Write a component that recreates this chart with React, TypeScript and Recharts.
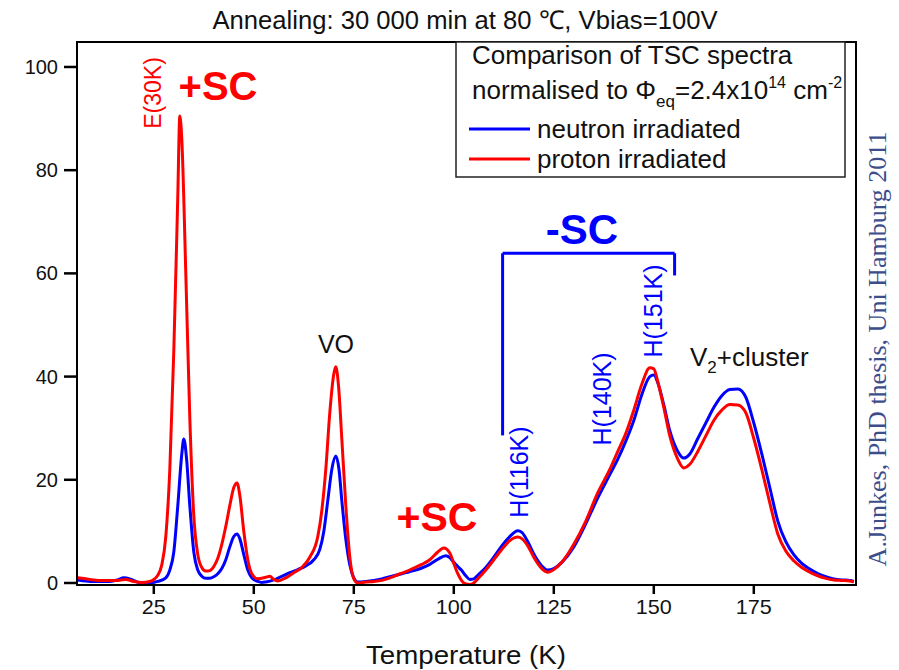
import React from 'react';
import { LineChart, Line, XAxis, YAxis, ReferenceLine } from 'recharts';

const protonT = [6, 8, 10, 12, 14, 16, 18, 20, 22, 24, 26, 27, 28, 29, 30, 31, 31.5, 32, 33, 34, 35, 36, 37, 38, 39, 40, 41, 42, 43, 44, 45, 45.8, 46.5, 47.5, 48.5, 49.5, 51, 53, 54, 55, 56, 58, 60, 62, 64, 66, 67, 68, 69, 70, 70.5, 71.2, 72, 73, 74, 75, 76, 78, 80, 82, 84, 86, 88, 90, 92, 94, 96, 97.5, 99, 100, 101, 102, 103, 104, 105, 106, 108, 110, 112, 114, 116, 117, 118.5, 120, 122, 123.5, 125, 127, 130, 133, 136, 139, 141, 143, 145, 147, 149, 150, 151, 152.5, 154, 156, 157.5, 159, 161, 163, 165, 167, 169, 171, 173, 175, 177, 179, 181, 183, 185, 187, 189, 191, 193, 195, 197, 199, 200];
const protonV = [1.0, 0.8, 0.6, 0.5, 0.5, 0.5, 0.7, 0.3, 0.1, 0.3, 1.5, 3.5, 9, 22, 45, 75, 90.5, 86, 60, 32, 13, 5.5, 3.0, 2.3, 2.4, 3.2, 4.8, 7.5, 11, 15, 18.5, 19.4, 17, 10, 4.5, 1.8, 0.8, 1.1, 1.3, 0.7, 0.4, 1.0, 2.0, 3.0, 5.0, 9, 14, 22, 33, 40.5, 41.9, 38, 28, 15, 5, 0.8, 0.0, 0.2, 0.3, 0.5, 1.0, 1.6, 2.2, 2.9, 3.6, 4.5, 6.0, 6.8, 5.8, 3.8, 1.8, 0.4, -0.2, -0.3, 0.0, 0.8, 2.5, 4.5, 6.5, 8.2, 8.9, 8.6, 7.2, 5.0, 2.8, 2.1, 2.6, 4.0, 7.5, 12, 17.5, 22, 25.5, 29, 33.5, 38.5, 41.7, 41.5, 39, 34, 28.5, 24, 22.3, 23, 25.5, 28.5, 31.5, 33.5, 34.6, 34.5, 33, 28, 22, 15.5, 9.5, 6.2, 4.3, 3.0, 2.1, 1.4, 0.9, 0.6, 0.5, 0.4, 0.2];

const neutronT = [6, 8, 10, 12, 14, 16, 17.5, 19, 20.5, 22, 24, 26, 28, 29, 30, 31, 32, 32.5, 33.2, 34, 35, 36, 37, 38, 39, 40, 41, 42, 43, 44, 45, 45.8, 46.5, 47.5, 48.5, 49.5, 51, 52, 53, 55, 57, 59, 61, 63, 65, 66.5, 67.5, 68.5, 69.5, 70.5, 71.3, 72, 73, 74, 75, 76, 78, 80, 82, 84, 86, 88, 90, 92, 94, 96, 98, 99, 100, 101, 102, 103, 104, 105, 106, 108, 110, 112, 114, 116, 117, 118.5, 120, 122, 123.5, 125, 127, 130, 133, 136, 139, 141, 143, 145, 147, 149, 150, 151, 152.5, 154, 156, 157.5, 159, 161, 163, 165, 167, 169, 171, 173, 175, 177, 179, 181, 183, 185, 187, 189, 191, 193, 195, 197, 199, 200];
const neutronV = [0.6, 0.4, 0.3, 0.3, 0.3, 0.6, 1.0, 0.8, 0.3, 0.0, 0.0, 0.3, 1.0, 2.5, 6, 15, 25, 27.9, 24, 15, 6, 2.5, 1.3, 0.9, 0.9, 1.2, 1.8, 2.8, 4.5, 7, 9, 9.5, 8.6, 5.5, 2.5, 1.0, 0.3, 0.1, 0.2, 0.6, 1.3, 2.0, 2.6, 3.3, 4.5, 6.5, 10, 16, 22, 24.6, 22, 16, 8.5, 3.5, 1.0, 0.2, 0.3, 0.5, 0.8, 1.2, 1.6, 2.0, 2.4, 2.9, 3.6, 4.6, 5.3, 4.9, 4.0, 3.2, 2.4, 1.4, 0.7, 0.8, 1.5, 3.0, 5.0, 7.2, 9.0, 10.1, 9.8, 8.0, 5.6, 3.3, 2.5, 2.8, 4.0, 7.0, 11.5, 16.5, 21, 24, 27.5, 31.5, 36.5, 40.0, 40.3, 38.8, 34.5, 29.5, 25.5, 24.2, 25, 28, 31, 34, 36.3, 37.5, 37.6, 36, 31, 25, 18.5, 12, 8, 5.5, 3.8, 2.7, 1.8, 1.2, 0.8, 0.6, 0.5, 0.3];

const xTicks = [25, 50, 75, 100, 125, 150, 175];
const yTicks = [0, 20, 40, 60, 80, 100];
const xDomain = [5.8, 200.55];
const yDomain = [-0.39, 104.84];

// "-SC" bracket (temperature, signal)
const bracketLeftT = 112.2;
const bracketRightT = 155.2;
const bracketTop = 63.9;
const bracketLeftBottom = 28.6;
const bracketRightBottom = 59.6;

const proton = protonT.map((t, i) => ({ t, v: protonV[i] }));
const neutron = neutronT.map((t, i) => ({ t, v: neutronV[i] }));

const SANS = '"Liberation Sans", Arial, Helvetica, sans-serif';
const SERIF = '"Liberation Serif", "Times New Roman", serif';

const XTick = (props: any) => {
  const { x, y, payload } = props;
  const w = String(payload.value).length * 12;
  return (
    <text x={x} y={y + 18} textAnchor="middle" fontFamily={SANS} fontSize={21} fill="#111"
      textLength={w} lengthAdjust="spacingAndGlyphs">
      {payload.value}
    </text>
  );
};

export default function App() {
  return (
    <div style={{ position: 'absolute', left: 0, top: 0, width: 899, height: 670, background: '#fff' }}>
      <LineChart width={899} height={670} data={neutron} margin={{ top: 42, right: 43, left: 17, bottom: 55 }}>
        <XAxis dataKey="t" type="number" domain={xDomain} ticks={xTicks} allowDataOverflow
          height={30} tickSize={9} stroke="#000" axisLine={{ stroke: '#000', strokeWidth: 2 }}
          tickLine={{ stroke: '#000', strokeWidth: 2.5 }} tick={<XTick />} />
        <YAxis type="number" domain={yDomain} ticks={yTicks} allowDataOverflow width={60}
          tickSize={13} tickMargin={6} axisLine={{ stroke: '#000', strokeWidth: 2 }}
          tickLine={{ stroke: '#000', strokeWidth: 2.5 }}
          tick={{ fontSize: 20, fill: '#111', fontFamily: SANS }} />
        <Line data={neutron} dataKey="v" type="monotone" stroke="#0000ff" strokeWidth={3} dot={false} isAnimationActive={false} />
        <Line data={proton} dataKey="v" type="monotone" stroke="#ff0000" strokeWidth={3} dot={false} isAnimationActive={false} />
        <ReferenceLine segment={[{ x: bracketLeftT, y: bracketLeftBottom }, { x: bracketLeftT, y: bracketTop }]} stroke="#0000ff" strokeWidth={3} />
        <ReferenceLine segment={[{ x: bracketLeftT, y: bracketTop }, { x: bracketRightT, y: bracketTop }]} stroke="#0000ff" strokeWidth={3} />
        <ReferenceLine segment={[{ x: bracketRightT, y: bracketTop }, { x: bracketRightT, y: bracketRightBottom }]} stroke="#0000ff" strokeWidth={3} />
      </LineChart>
      <svg width={899} height={670} style={{ position: 'absolute', left: 0, top: 0, pointerEvents: 'none' }}>
        <rect x={77} y={42} width={779} height={543} fill="none" stroke="#000" strokeWidth={2} />
        <text x={465} y={29} textAnchor="middle" fontFamily={SANS} fontSize={26} fill="#111"
          textLength={505} lengthAdjust="spacingAndGlyphs">Annealing: 30 000 min at 80 ℃, Vbias=100V</text>
        <text x={466} y={664} textAnchor="middle" fontFamily={SANS} fontSize={26} fill="#111"
          textLength={200} lengthAdjust="spacingAndGlyphs">Temperature (K)</text>

        {/* legend box */}
        <rect x={456} y={42} width={389} height={135} fill="#fff" stroke="#222" strokeWidth={1.5} />
        <text x={472} y={64} fontFamily={SANS} fontSize={26} fill="#111">Comparison of TSC spectra</text>
        <text x={472} y={99} fontFamily={SANS} fontSize={26} fill="#111">
          normalised to Φ<tspan fontSize={17} dy={8}>eq</tspan><tspan dy={-8}>=2.4x10</tspan><tspan fontSize={16} dy={-11}>14</tspan><tspan dy={11}> cm</tspan><tspan fontSize={16} dy={-11}>-2</tspan>
        </text>
        <line x1={469} x2={530} y1={129} y2={129} stroke="#0000ff" strokeWidth={3} />
        <text x={537} y={138} fontFamily={SANS} fontSize={26} fill="#111">neutron irradiated</text>
        <line x1={469} x2={530} y1={159} y2={159} stroke="#ff0000" strokeWidth={3} />
        <text x={537} y={168} fontFamily={SANS} fontSize={26} fill="#111">proton irradiated</text>

        {/* annotations */}
        <text transform="translate(161,93) rotate(-90)" textAnchor="middle" fontFamily={SANS} fontSize={23} fill="#ff0000">E(30K)</text>
        <text x={218} y={100} textAnchor="middle" fontFamily={SANS} fontWeight="bold" fontSize={40} fill="#ff0000">+SC</text>
        <text x={336} y={353} textAnchor="middle" fontFamily={SANS} fontSize={25} fill="#111">VO</text>
        <text x={437} y={531} textAnchor="middle" fontFamily={SANS} fontWeight="bold" fontSize={41} fill="#ff0000">+SC</text>
        <text x={582} y={244} textAnchor="middle" fontFamily={SANS} fontWeight="bold" fontSize={42} fill="#0000ff">-SC</text>
        <text transform="translate(528,472) rotate(-90)" textAnchor="middle" fontFamily={SANS} fontSize={25} fill="#0000ff">H(116K)</text>
        <text transform="translate(611,399) rotate(-90)" textAnchor="middle" fontFamily={SANS} fontSize={25} fill="#0000ff">H(140K)</text>
        <text transform="translate(662,311) rotate(-90)" textAnchor="middle" fontFamily={SANS} fontSize={25} fill="#0000ff">H(151K)</text>
        <text x={690} y={366} fontFamily={SANS} fontSize={26} fill="#111">V<tspan fontSize={17} dy={7}>2</tspan><tspan dy={-7}>+cluster</tspan></text>

        <text transform="translate(886,349) rotate(-90)" textAnchor="middle" fontFamily={SERIF} fontSize={26} fill="#3c4d8c">A.Junkes, PhD thesis, Uni Hamburg 2011</text>
      </svg>
    </div>
  );
}
